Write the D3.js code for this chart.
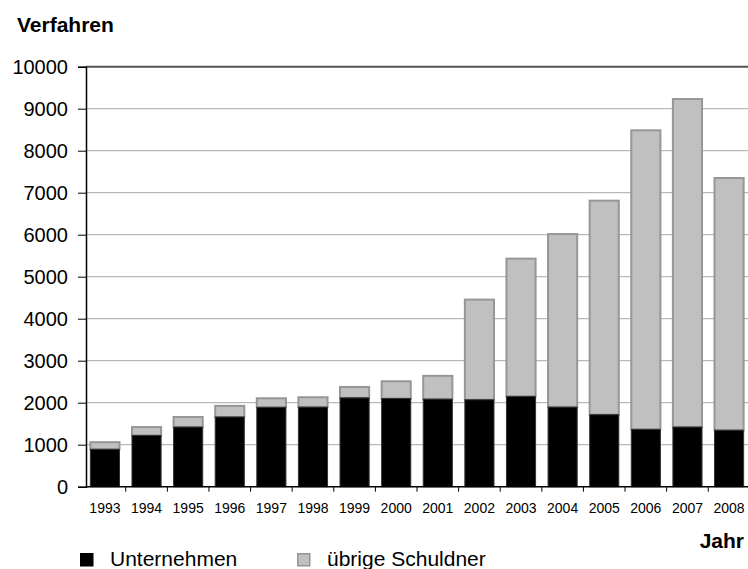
<!DOCTYPE html>
<html>
<head>
<meta charset="utf-8">
<script src="https://cdn.jsdelivr.net/npm/d3@7"></script>
<style>
  body { margin: 0; background: #fff; }
  svg { font-family: "Liberation Sans", Arial, sans-serif; }
</style>
</head>
<body>
<svg id="chart" width="748" height="569"></svg>
<script>
const years = ['1993', '1994', '1995', '1996', '1997', '1998', '1999', '2000',
  '2001', '2002', '2003', '2004', '2005', '2006', '2007', '2008'];
const unternehmen = [890, 1220, 1420, 1660, 1890, 1895, 2115, 2100,
  2085, 2070, 2150, 1895, 1715, 1365, 1420, 1345];
const gesamt = [1060, 1420, 1660, 1925, 2105, 2130, 2375, 2510,
  2640, 4455, 5430, 6015, 6810, 8485, 9230, 7350];
const yTicks = [0, 1000, 2000, 3000, 4000, 5000, 6000, 7000, 8000, 9000, 10000];

const width = 748, height = 569;
const plot = {left: 86, right: 748, top: 66.7, bottom: 486.7};
const svg = d3.select('svg#chart');

const x = d3.scaleBand()
  .domain(years)
  .range([plot.left, plot.right])
  .paddingInner(0.30)
  .paddingOuter(0.105);
const y = d3.scaleLinear()
  .domain([0, 10000])
  .range([plot.bottom, plot.top]);

// Gridlines
svg.append('g')
  .selectAll('line')
  .data(yTicks.slice(1, -1))
  .enter().append('line')
  .attr('x1', plot.left)
  .attr('x2', plot.right)
  .attr('y1', d => y(d))
  .attr('y2', d => y(d))
  .attr('stroke', '#a8a8a8')
  .attr('stroke-width', 1);
svg.append('line')
  .attr('x1', plot.left).attr('x2', plot.right)
  .attr('y1', y(10000)).attr('y2', y(10000))
  .attr('stroke', '#555').attr('stroke-width', 2);

const rows = years.map((yr, i) => ({year: yr, u: unternehmen[i], t: gesamt[i]}));

// übrige Schuldner (stacked on top)
svg.append('g')
  .selectAll('rect')
  .data(rows)
  .enter().append('rect')
  .attr('x', d => x(d.year))
  .attr('width', x.bandwidth())
  .attr('y', d => y(d.t))
  .attr('height', d => y(d.u) - y(d.t))
  .attr('fill', '#c0c0c0')
  .attr('stroke', '#969696')
  .attr('stroke-width', 2);

// Unternehmen
svg.append('g')
  .selectAll('rect')
  .data(rows)
  .enter().append('rect')
  .attr('x', d => x(d.year))
  .attr('width', x.bandwidth())
  .attr('y', d => y(d.u))
  .attr('height', d => y(0) - y(d.u))
  .attr('fill', '#000')
  .attr('stroke', '#333')
  .attr('stroke-width', 1);

// Y axis
const yAxis = svg.append('g')
  .attr('transform', `translate(${plot.left},0)`)
  .call(d3.axisLeft(y).tickValues(yTicks).tickSize(8).tickPadding(10).tickFormat(d3.format('d')));
yAxis.select('.domain').attr('stroke', '#000').attr('stroke-width', 1.5);
yAxis.selectAll('.tick line').attr('stroke', '#000');
yAxis.selectAll('text').attr('font-size', 20).attr('fill', '#000');

// X axis with ticks between categories
const xAxis = svg.append('g')
  .attr('transform', `translate(0,${y(0)})`);
xAxis.append('line')
  .attr('x1', plot.left).attr('x2', plot.right)
  .attr('stroke', '#000').attr('stroke-width', 1.5);
const gap = x.step() - x.bandwidth();
xAxis.selectAll('line.sep')
  .data(years.slice(1))
  .enter().append('line')
  .attr('class', 'sep')
  .attr('x1', d => x(d) - gap / 2)
  .attr('x2', d => x(d) - gap / 2)
  .attr('y1', 0).attr('y2', 5)
  .attr('stroke', '#000');
xAxis.selectAll('text')
  .data(years)
  .enter().append('text')
  .attr('x', d => x(d) + x.bandwidth() / 2)
  .attr('y', 26.5)
  .attr('text-anchor', 'middle')
  .attr('font-size', 14)
  .text(d => d);

// Axis titles
svg.append('text')
  .attr('x', 17).attr('y', 31.5)
  .attr('font-size', 21).attr('font-weight', 'bold')
  .text('Verfahren');
svg.append('text')
  .attr('x', 744).attr('y', 548)
  .attr('text-anchor', 'end')
  .attr('font-size', 21).attr('font-weight', 'bold')
  .text('Jahr');

// Legend
const legend = [
  {label: 'Unternehmen', fill: '#000', stroke: '#000', x: 80},
  {label: 'übrige Schuldner', fill: '#c0c0c0', stroke: '#969696', x: 297}
];
const lg = svg.append('g').selectAll('g')
  .data(legend).enter().append('g')
  .attr('transform', d => `translate(${d.x},553)`);
lg.append('rect')
  .attr('x', 0.75).attr('y', 0.75)
  .attr('width', 12).attr('height', 12)
  .attr('fill', d => d.fill).attr('stroke', d => d.stroke).attr('stroke-width', 1.5);
lg.append('text')
  .attr('x', 30).attr('y', 12.5)
  .attr('font-size', 21)
  .text(d => d.label);
</script>
</body>
</html>
